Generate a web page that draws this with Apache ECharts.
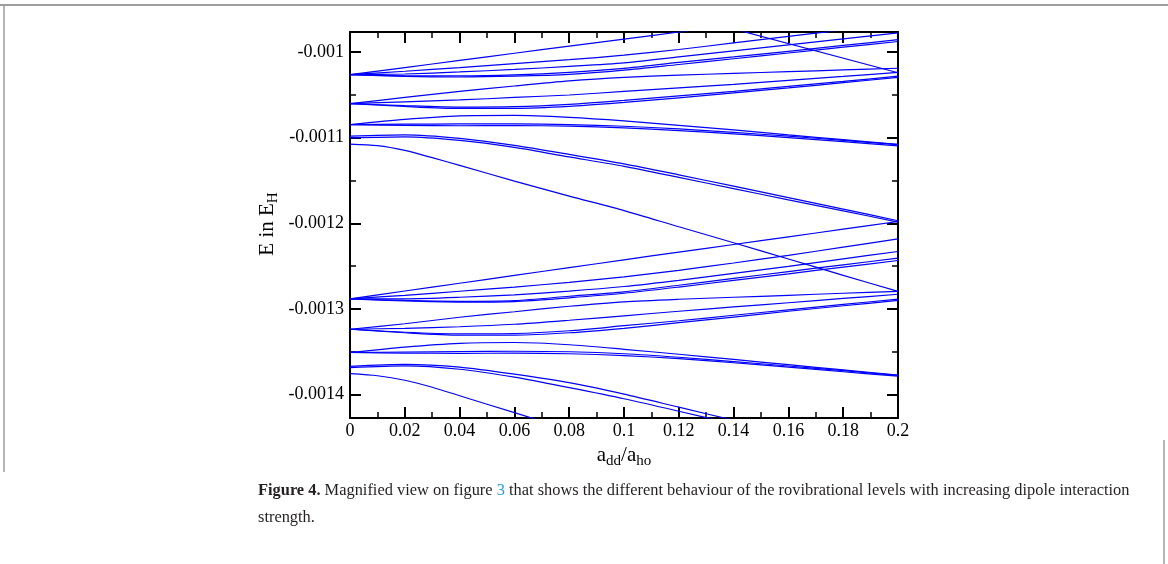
<!DOCTYPE html>
<html>
<head>
<meta charset="utf-8">
<script src="https://cdn.jsdelivr.net/npm/echarts@6/dist/echarts.min.js"></script>
<style>
  html, body { margin: 0; padding: 0; background: #fff; }
  #chart { width: 1168px; height: 564px; }
</style>
</head>
<body>
<div id="chart"></div>
<script>
(function () {
    // a_dd / a_ho positions where the levels were read
    const xFull = [0, 0.02, 0.04, 0.06, 0.08, 0.1, 0.12, 0.14, 0.16, 0.18, 0.2];
    const xTo014 = xFull.slice(0, 8);
    const xTo016 = xFull.slice(0, 9);
    const xTo018 = xFull.slice(0, 10);
    const xCross = [0.14, 0.2];
    // the two steep single levels bend early, so they get a denser start
    const xBend = [0, 0.01, 0.02, 0.03, 0.04, 0.06, 0.08, 0.1, 0.12, 0.14, 0.16, 0.18, 0.2];
    const xBendTo008 = xBend.slice(0, 7);

    // energies in E_H, upper band
    const levelA1 = [-0.0010265, -0.0010182, -0.0010099, -0.0010015, -0.0009932, -0.0009850, -0.0009767, -0.0009684];
    const levelA2 = [-0.0010265, -0.0010225, -0.0010182, -0.0010136, -0.0010090, -0.0010038, -0.0009971, -0.0009895, -0.0009819, -0.0009743];
    const levelA3 = [-0.0010265, -0.0010257, -0.0010233, -0.0010204, -0.0010169, -0.0010128, -0.0010058, -0.0009988, -0.0009918, -0.0009848, -0.0009778];
    const levelA4 = [-0.0010265, -0.0010278, -0.0010280, -0.0010268, -0.0010239, -0.0010192, -0.0010122, -0.0010058, -0.0009992, -0.0009924, -0.0009857];
    const levelA5 = [-0.0010265, -0.0010286, -0.0010292, -0.0010283, -0.0010262, -0.0010213, -0.0010146, -0.0010079, -0.0010012, -0.0009944, -0.0009878];
    const levelB1 = [-0.0010603, -0.0010531, -0.0010461, -0.0010397, -0.0010338, -0.0010297, -0.0010271, -0.0010250, -0.0010230, -0.0010210, -0.0010190];
    const levelB2 = [-0.0010603, -0.0010583, -0.0010560, -0.0010531, -0.0010502, -0.0010461, -0.0010420, -0.0010379, -0.0010332, -0.0010286, -0.0010239];
    const levelB3 = [-0.0010603, -0.0010627, -0.0010644, -0.0010639, -0.0010612, -0.0010566, -0.0010513, -0.0010461, -0.0010402, -0.0010344, -0.0010283];
    const levelB4 = [-0.0010603, -0.0010636, -0.0010659, -0.0010659, -0.0010636, -0.0010589, -0.0010536, -0.0010478, -0.0010420, -0.0010358, -0.0010297];
    const levelC1 = [-0.0010848, -0.0010787, -0.0010746, -0.0010741, -0.0010764, -0.0010805, -0.0010857, -0.0010910, -0.0010968, -0.0011024, -0.0011079];
    const levelC2 = [-0.0010848, -0.0010843, -0.0010840, -0.0010840, -0.0010848, -0.0010867, -0.0010898, -0.0010939, -0.0010983, -0.0011032, -0.0011082];
    const levelC3 = [-0.0010848, -0.0010857, -0.0010861, -0.0010860, -0.0010865, -0.0010886, -0.0010917, -0.0010956, -0.0010999, -0.0011046, -0.0011096];
    const levelD1 = [-0.0010983, -0.0010968, -0.0011009, -0.0011090, -0.0011195, -0.0011306, -0.0011434, -0.0011566, -0.0011700, -0.0011834, -0.0011970];
    const levelD2 = [-0.0011003, -0.0010991, -0.0011032, -0.0011114, -0.0011225, -0.0011335, -0.0011464, -0.0011595, -0.0011726, -0.0011854, -0.0011985];
    const levelS1 = [-0.0011076, -0.0011094, -0.0011149, -0.0011234, -0.0011324, -0.0011507, -0.0011682, -0.0011851, -0.0012040, -0.0012227, -0.0012416, -0.0012607, -0.0012795];
    const levelT1 = [-0.0009732, -0.0010243];

    // lower band
    const levelE1 = [-0.0012881, -0.0012790, -0.0012699, -0.0012608, -0.0012517, -0.0012426, -0.0012336, -0.0012247, -0.0012158, -0.0012068, -0.0011979];
    const levelE2 = [-0.0012881, -0.0012840, -0.0012793, -0.0012744, -0.0012688, -0.0012624, -0.0012548, -0.0012463, -0.0012373, -0.0012278, -0.0012181];
    const levelE3 = [-0.0012881, -0.0012881, -0.0012863, -0.0012834, -0.0012791, -0.0012737, -0.0012665, -0.0012583, -0.0012502, -0.0012414, -0.0012329];
    const levelE4 = [-0.0012881, -0.0012900, -0.0012910, -0.0012902, -0.0012851, -0.0012799, -0.0012723, -0.0012643, -0.0012563, -0.0012484, -0.0012406];
    const levelE5 = [-0.0012881, -0.0012906, -0.0012919, -0.0012913, -0.0012869, -0.0012816, -0.0012744, -0.0012666, -0.0012589, -0.0012511, -0.0012434];
    const levelF1 = [-0.0013236, -0.0013172, -0.0013096, -0.0013032, -0.0012968, -0.0012916, -0.0012886, -0.0012863, -0.0012840, -0.0012816, -0.0012795];
    const levelF2 = [-0.0013236, -0.0013225, -0.0013207, -0.0013178, -0.0013131, -0.0013079, -0.0013026, -0.0012976, -0.0012927, -0.0012877, -0.0012828];
    const levelF3 = [-0.0013236, -0.0013271, -0.0013289, -0.0013286, -0.0013254, -0.0013195, -0.0013137, -0.0013073, -0.0013009, -0.0012947, -0.0012884];
    const levelF4 = [-0.0013236, -0.0013277, -0.0013304, -0.0013304, -0.0013277, -0.0013225, -0.0013160, -0.0013094, -0.0013026, -0.0012962, -0.0012900];
    const levelG1 = [-0.0013507, -0.0013444, -0.0013400, -0.0013391, -0.0013417, -0.0013470, -0.0013528, -0.0013588, -0.0013650, -0.0013711, -0.0013770];
    const levelG2 = [-0.0013507, -0.0013502, -0.0013496, -0.0013493, -0.0013499, -0.0013522, -0.0013563, -0.0013613, -0.0013665, -0.0013720, -0.0013775];
    const levelG3 = [-0.0013507, -0.0013514, -0.0013517, -0.0013516, -0.0013522, -0.0013543, -0.0013580, -0.0013627, -0.0013679, -0.0013732, -0.0013784];
    const levelH1 = [-0.0013670, -0.0013647, -0.0013679, -0.0013761, -0.0013860, -0.0013994, -0.0014146, -0.0014298, -0.0014449];
    const levelH2 = [-0.0013683, -0.0013664, -0.0013703, -0.0013796, -0.0013918, -0.0014047, -0.0014193, -0.0014344, -0.0014496];
    const levelS2 = [-0.0013755, -0.0013779, -0.0013831, -0.0013913, -0.0014012, -0.0014210, -0.0014408];

    const levels = [
        [xTo014, levelA1], [xTo018, levelA2], [xFull, levelA3], [xFull, levelA4], [xFull, levelA5],
        [xFull, levelB1], [xFull, levelB2], [xFull, levelB3], [xFull, levelB4],
        [xFull, levelC1], [xFull, levelC2], [xFull, levelC3],
        [xFull, levelD1], [xFull, levelD2], [xBend, levelS1], [xCross, levelT1],
        [xFull, levelE1], [xFull, levelE2], [xFull, levelE3], [xFull, levelE4], [xFull, levelE5],
        [xFull, levelF1], [xFull, levelF2], [xFull, levelF3], [xFull, levelF4],
        [xFull, levelG1], [xFull, levelG2], [xFull, levelG3],
        [xTo016, levelH1], [xTo016, levelH2], [xBendTo008, levelS2]
    ];

    const serif = '"Liberation Serif", "DejaVu Serif", serif';
    const ink = '#000';

    function frameAxis(pos, isX, showLabel) {
        return {
            type: 'value',
            position: pos,
            min: isX ? 0 : -0.0014272,
            max: isX ? 0.2 : -0.0009767,
            interval: isX ? 0.02 : undefined,
            minInterval: isX ? undefined : 0.0001,
            maxInterval: isX ? undefined : 0.0001,
            splitNumber: 5,
            axisLine: { show: true, onZero: false, lineStyle: { color: ink, width: 2 } },
            axisTick: { show: true, inside: true, length: 11, lineStyle: { color: ink, width: 2 } },
            minorTick: { show: true, splitNumber: 2, length: 6, lineStyle: { color: ink, width: 1.5 } },
            splitLine: { show: false },
            axisLabel: {
                show: showLabel,
                showMinLabel: isX ? true : false,
                showMaxLabel: isX ? true : false,
                color: ink,
                fontFamily: serif,
                fontSize: 18,
                margin: isX ? 4 : 6
            }
        };
    }

    let chart = echarts.init(document.getElementById('chart'));

    let option = {
        backgroundColor: '#fff',
        animation: false,
        grid: { left: 350, top: 32, width: 548, height: 386, containLabel: false },
        xAxis: [frameAxis('bottom', true, true), frameAxis('top', true, false)],
        yAxis: [frameAxis('left', false, true), frameAxis('right', false, false)],
        series: levels.map(function (lv) {
            return {
                type: 'line',
                xAxisIndex: 0,
                yAxisIndex: 0,
                data: lv[0].map(function (x, i) { return [x, lv[1][i]]; }),
                symbol: 'none',
                smooth: 0.25,
                clip: true,
                silent: true,
                lineStyle: { color: '#0000ff', width: 1.2 }
            };
        }),
        graphic: [
            // page frame of the scanned figure
            { type: 'line', shape: { x1: 0, y1: 5, x2: 1168, y2: 5 }, style: { stroke: '#9d9d9d', lineWidth: 2 } },
            { type: 'line', shape: { x1: 4, y1: 5, x2: 4, y2: 472 }, style: { stroke: '#9d9d9d', lineWidth: 1.5 } },
            { type: 'line', shape: { x1: 1164, y1: 440, x2: 1164, y2: 564 }, style: { stroke: '#9d9d9d', lineWidth: 1.5 } },
            {
                type: 'text',
                x: 624, y: 445,
                style: {
                    text: '{m|a}{s|dd}{m|/a}{s|ho}',
                    align: 'center',
                    verticalAlign: 'top',
                    fill: ink,
                    rich: {
                        m: { fontFamily: serif, fontSize: 21, lineHeight: 24, verticalAlign: 'top', fill: ink },
                        s: { fontFamily: serif, fontSize: 15, lineHeight: 15, padding: [12, 0, 0, 0], verticalAlign: 'bottom', fill: ink }
                    }
                }
            },
            {
                type: 'text',
                x: 269, y: 224,
                rotation: Math.PI / 2,
                style: {
                    text: '{m|E in E}{s|H}',
                    align: 'center',
                    verticalAlign: 'middle',
                    fill: ink,
                    rich: {
                        m: { fontFamily: serif, fontSize: 21, lineHeight: 24, verticalAlign: 'top', fill: ink },
                        s: { fontFamily: serif, fontSize: 15, lineHeight: 15, padding: [12, 0, 0, 0], verticalAlign: 'bottom', fill: ink }
                    }
                }
            },
            {
                type: 'text',
                x: 258, y: 477,
                style: {
                    text: '{b|Figure 4.} Magnified view on figure {l|3} that shows the different behaviour of the rovibrational levels with increasing dipole interaction\nstrength.',
                    fontFamily: serif,
                    fontSize: 16.4,
                    lineHeight: 27,
                    fill: '#231f20',
                    rich: {
                        b: { fontFamily: serif, fontSize: 16.4, fontWeight: 'bold', fill: '#231f20' },
                        l: { fontFamily: serif, fontSize: 16.4, fill: '#2a9ad5' }
                    }
                }
            }
        ]
    };

    chart.setOption(option);
})();
</script>
</body>
</html>
